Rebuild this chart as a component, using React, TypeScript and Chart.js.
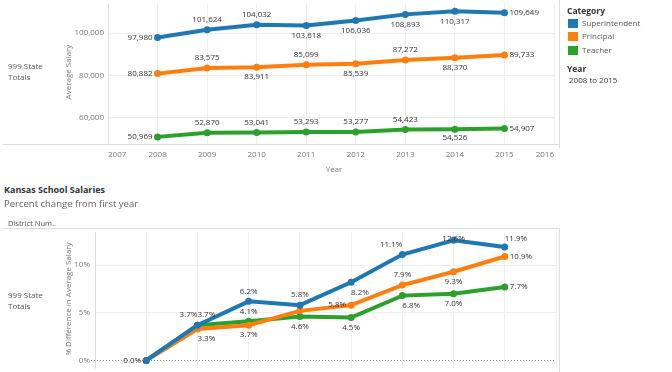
import React, { useEffect, useRef } from 'react';
import { Chart, registerables } from 'chart.js';

Chart.register(...registerables);

// ---------- data ----------
const years = [2008, 2009, 2010, 2011, 2012, 2013, 2014, 2015];
const categories = ['Superintendent', 'Principal', 'Teacher'];
const superintendentSalary = [97980, 101624, 104032, 103618, 106036, 108893, 110317, 109649];
const principalSalary = [80882, 83575, 83911, 85099, 85539, 87272, 88370, 89733];
const teacherSalary = [50969, 52870, 53041, 53293, 53277, 54423, 54526, 54907];
const superintendentPct = [0.0, 3.7, 6.2, 5.8, 8.2, 11.1, 12.6, 11.9];
const principalPct = [0.0, 3.3, 3.7, 5.2, 5.8, 7.9, 9.3, 10.9];
const teacherPct = [0.0, 3.7, 4.1, 4.6, 4.5, 6.8, 7.0, 7.7];
const salaryTicks = [60000, 80000, 100000];
const pctTicks = [0, 5, 10];

// ---------- style ----------
const COLORS = ['#1f77b4', '#ff7f0e', '#2ca02c'];
const FONT = '"Open Sans", sans-serif';
const salaryLabelPlacement = [
  ['left', 'above', 'above', 'below', 'below', 'below', 'below', 'right'],
  ['left', 'above', 'below', 'above', 'below', 'above', 'below', 'right'],
  ['left', 'above', 'above', 'above', 'above', 'above', 'below', 'right'],
];
const pctLabelPlacement = [
  ['left', 'aboveLeft', 'above', 'above', 'belowRight', 'aboveLeft', 'above', 'aboveRight'],
  ['none', 'belowRight', 'below', 'none', 'left', 'above', 'below', 'right'],
  ['none', 'aboveRight', 'above', 'below', 'below', 'belowRight', 'below', 'right'],
];

function makeLabelPlugin(id: string, placements: string[][], fmt: (v: number) => string) {
  return {
    id,
    afterDatasetsDraw(chart: any) {
      const ctx = chart.ctx;
      const area = chart.chartArea;
      ctx.save();
      ctx.font = `8px ${FONT}`;
      ctx.fillStyle = '#333';
      ctx.textBaseline = 'middle';
      chart.data.datasets.forEach((ds: any, i: number) => {
        const meta = chart.getDatasetMeta(i);
        meta.data.forEach((pt: any, j: number) => {
          const p = placements[i][j];
          if (p === 'none') return;
          let x = pt.x;
          let y = pt.y;
          let align = 'center';
          const off = 10;
          const side = 5;
          if (p === 'above') y -= off;
          else if (p === 'below') y += off;
          else if (p === 'left') { x -= side; align = 'right'; }
          else if (p === 'right') { x += side; align = 'left'; }
          else if (p === 'aboveLeft') { y -= off; align = 'right'; }
          else if (p === 'aboveRight') { y -= off; align = 'left'; }
          else if (p === 'belowRight') { y += off; align = 'left'; }
          y = Math.max(area.top + 7, Math.min(area.bottom - 6, y));
          ctx.textAlign = align;
          const raw = ds.data[j];
          const val = typeof raw === 'object' ? raw.y : raw;
          ctx.fillText(fmt(val), x, y);
        });
      });
      ctx.restore();
    },
  };
}

const zeroLinePlugin = {
  id: 'zeroLine',
  beforeDatasetsDraw(chart: any) {
    const ctx = chart.ctx;
    const area = chart.chartArea;
    const y = Math.round(chart.scales.y.getPixelForValue(0)) + 0.5;
    ctx.save();
    ctx.strokeStyle = '#888';
    ctx.lineWidth = 1;
    ctx.setLineDash([1, 2]);
    ctx.beginPath();
    ctx.moveTo(area.left - 4, y);
    ctx.lineTo(area.right, y);
    ctx.stroke();
    ctx.restore();
  },
};

function buildDatasets(series: number[][]) {
  return series.map((vals, i) => ({
    label: categories[i],
    data: vals.map((v, j) => ({ x: years[j], y: v })),
    borderColor: COLORS[i],
    backgroundColor: COLORS[i],
    pointBackgroundColor: COLORS[i],
    pointBorderWidth: 0,
    pointRadius: 3.5,
    borderWidth: 4,
    tension: 0,
  }));
}

const tickFont = { family: FONT, size: 8 };

function TopChart() {
  const ref = useRef<HTMLCanvasElement>(null);
  useEffect(() => {
    const chart = new Chart(ref.current!, {
      type: 'line',
      data: { datasets: buildDatasets([superintendentSalary, principalSalary, teacherSalary]) as any },
      options: {
        animation: false,
        responsive: false,
        layout: { padding: 0 },
        plugins: { legend: { display: false }, tooltip: { enabled: false } },
        scales: {
          x: {
            type: 'linear',
            min: 2007,
            max: 2016,
            ticks: { stepSize: 1, callback: (v: any) => String(v), color: '#777', font: tickFont, padding: 6, align: 'inner', maxRotation: 0 },
            grid: { color: '#eeeeee', drawTicks: false },
            border: { display: false },
            afterFit: (s: any) => { s.height = 32; s.paddingLeft = 0; s.paddingRight = 0; },
          },
          y: {
            min: 47600,
            max: 113800,
            afterBuildTicks: (s: any) => { s.ticks = salaryTicks.map((v) => ({ value: v })); },
            ticks: { callback: (v: any) => Number(v).toLocaleString('en-US'), color: '#777', font: tickFont, padding: 4 },
            grid: { color: '#eeeeee', drawTicks: false },
            border: { color: '#dddddd' },
            afterFit: (s: any) => { s.width = 108; s.paddingTop = 0; s.paddingBottom = 0; },
          },
        },
      } as any,
      plugins: [makeLabelPlugin('salaryLabels', salaryLabelPlacement, (v) => v.toLocaleString('en-US'))],
    });
    return () => chart.destroy();
  }, []);
  return <canvas ref={ref} width={558} height={176} style={{ position: 'absolute', left: 0, top: 0 }} />;
}

function BottomChart() {
  const ref = useRef<HTMLCanvasElement>(null);
  useEffect(() => {
    const chart = new Chart(ref.current!, {
      type: 'line',
      data: { datasets: buildDatasets([superintendentPct, principalPct, teacherPct]) as any },
      options: {
        animation: false,
        responsive: false,
        layout: { padding: 0 },
        plugins: { legend: { display: false }, tooltip: { enabled: false } },
        scales: {
          x: {
            type: 'linear',
            min: 2007,
            max: 2016,
            ticks: { stepSize: 1, display: false },
            grid: { color: '#eeeeee', drawTicks: false },
            border: { display: false },
            afterFit: (s: any) => { s.height = 0; s.paddingLeft = 0; s.paddingRight = 0; },
          },
          y: {
            min: -0.79,
            max: 13.47,
            afterBuildTicks: (s: any) => { s.ticks = pctTicks.map((v) => ({ value: v })); },
            ticks: { callback: (v: any) => `${v}%`, color: '#777', font: tickFont, padding: 5 },
            grid: { color: (c: any) => (c.tick && c.tick.value === 0 ? 'rgba(0,0,0,0)' : '#eeeeee'), drawTicks: false },
            border: { color: '#dddddd' },
            afterFit: (s: any) => { s.width = 95; s.paddingTop = 0; s.paddingBottom = 0; },
          },
        },
      } as any,
      plugins: [zeroLinePlugin, makeLabelPlugin('pctLabels', pctLabelPlacement, (v) => `${v.toFixed(1)}%`)],
    });
    return () => chart.destroy();
  }, []);
  return <canvas ref={ref} width={560} height={144} style={{ position: 'absolute', left: 0, top: 228 }} />;
}

const txt = (left: number, centerY: number, size: number, color: string, text: string, extra: any = {}) => (
  <div
    style={{
      position: 'absolute',
      left,
      top: centerY - 7,
      height: 14,
      lineHeight: '14px',
      fontSize: size,
      color,
      whiteSpace: 'nowrap',
      ...extra,
    }}
  >
    {text}
  </div>
);

const line = (left: number, top: number, width: number, height: number, color = '#dddddd') => (
  <div style={{ position: 'absolute', left, top, width, height, background: color }} />
);

export default function App() {
  return (
    <div
      style={{
        position: 'fixed',
        left: 0,
        top: 0,
        width: 672,
        height: 372,
        overflow: 'hidden',
        background: '#fff',
        fontFamily: FONT,
      }}
    >
      <TopChart />
      <BottomChart />

      {/* top pane frame */}
      {line(3, 144, 557, 1)}
      {line(559, 0, 1, 148)}
      {txt(8, 66, 8, '#555', '999 State')}
      {txt(8, 77, 8, '#555', 'Totals')}
      <div
        style={{
          position: 'absolute',
          left: 67,
          top: 72,
          transform: 'translate(-50%, -50%) rotate(-90deg)',
          fontSize: 8,
          color: '#777',
          whiteSpace: 'nowrap',
        }}
      >
        Average Salary
      </div>
      <div style={{ position: 'absolute', left: 334, top: 168, transform: 'translate(-50%, -50%)', fontSize: 8, color: '#777' }}>Year</div>

      {/* legend */}
      {txt(567, 11, 8.5, '#333', 'Category', { fontWeight: 700 })}
      {categories.map((c, i) => (
        <React.Fragment key={c}>
          <div style={{ position: 'absolute', left: 568, top: [19, 32, 46][i], width: 10, height: 9, background: COLORS[i] }} />
          {txt(582, [23, 36, 50][i], 8, '#555', c)}
        </React.Fragment>
      ))}
      {txt(567, 69, 8.5, '#333', 'Year', { fontWeight: 700 })}
      {txt(569, 80, 8, '#333', '2008 to 2015')}

      {/* bottom titles */}
      {txt(4, 190, 9, '#333', 'Kansas School Salaries', { fontWeight: 700 })}
      {txt(4, 204, 9.5, '#666', 'Percent change from first year')}
      {txt(8, 223, 7.5, '#555', 'District Num..')}
      {line(3, 228, 557, 1)}
      {line(559, 228, 1, 144)}
      {txt(8, 295, 8, '#555', '999 State')}
      {txt(8, 306, 8, '#555', 'Totals')}
      <div
        style={{
          position: 'absolute',
          left: 67,
          top: 299,
          transform: 'translate(-50%, -50%) rotate(-90deg)',
          fontSize: 8,
          color: '#777',
          whiteSpace: 'nowrap',
        }}
      >
        % Difference in Average Salary
      </div>
    </div>
  );
}
